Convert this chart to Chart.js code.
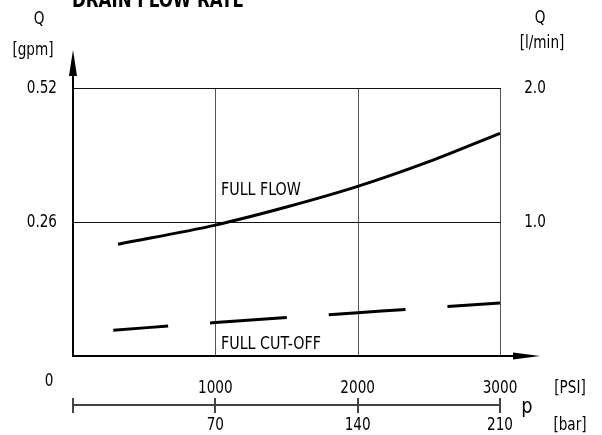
<!DOCTYPE html>
<html>
<head>
<meta charset="utf-8">
<script src="https://cdn.jsdelivr.net/npm/chart.js@4"></script>
<style>
  html, body { margin: 0; padding: 0; background: #fff; }
  #wrap { width: 602px; height: 435px; position: relative; }
</style>
</head>
<body>
<div id="wrap"><canvas id="grafico"></canvas></div>
<script>
// datos
const psiTicks = [1000, 2000, 3000];
const barTicks = ['70', '140', '210'];
const gpmTicks = [0.26, 0.52];
const lminTicks = ['1.0', '2.0'];

const fullFlowPsi = [316, 1000, 1500, 2000, 2500, 3000];
const fullFlowGpm = [0.217, 0.254, 0.289, 0.329, 0.377, 0.432];

const cutOffPsi = [283, 1000, 2000, 3000];
const cutOffGpm = [0.050, 0.065, 0.084, 0.103];

const fuente = '"DejaVu Sans Condensed", "DejaVu Sans", sans-serif';

// texto estrechado en horizontal (la fuente del plano es muy estrecha)
function texto(ctx, str, x, y, align, size, k) {
    ctx.save();
    ctx.translate(x, y);
    ctx.scale(k || 0.84, 1);
    ctx.font = (size || 18) + 'px ' + fuente;
    ctx.textAlign = align || 'center';
    ctx.textBaseline = 'middle';
    ctx.fillText(str, 0, 0);
    ctx.restore();
}

// plugin que dibuja ejes, flechas y textos tipo plano tecnico
const ejesPlugin = {
    id: 'ejes',
    beforeDatasetsDraw(chart) {
        const ctx = chart.ctx;
        const x = chart.scales.x;
        const y = chart.scales.y;
        const x0 = Math.round(x.getPixelForValue(0));
        const xEnd = Math.round(x.getPixelForValue(3000));
        const y0 = Math.round(y.getPixelForValue(0));
        const yTop = Math.round(y.getPixelForValue(0.52));
        ctx.save();
        // rejilla
        ctx.fillStyle = '#555';
        psiTicks.forEach(v => {
            const px = Math.round(x.getPixelForValue(v));
            ctx.fillRect(px, yTop, 1, y0 - yTop);
        });
        ctx.fillStyle = '#111';
        gpmTicks.forEach(v => {
            const py = Math.round(y.getPixelForValue(v));
            ctx.fillRect(x0, py, xEnd - x0 + 1, 1);
        });
        ctx.restore();
    },
    afterDraw(chart) {
        const ctx = chart.ctx;
        const x = chart.scales.x;
        const y = chart.scales.y;
        const x0 = Math.round(x.getPixelForValue(0));
        const xEnd = Math.round(x.getPixelForValue(3000));
        const y0 = Math.round(y.getPixelForValue(0));
        ctx.save();
        ctx.fillStyle = '#000';
        // eje Y con flecha
        ctx.fillRect(x0 - 1, 70, 2, y0 - 69);
        ctx.beginPath();
        ctx.moveTo(x0, 50);
        ctx.lineTo(x0 - 4, 76);
        ctx.lineTo(x0 + 4, 76);
        ctx.closePath();
        ctx.fill();
        // eje X con flecha
        ctx.fillRect(x0 - 1, y0 - 1, 520 - x0, 2);
        ctx.beginPath();
        ctx.moveTo(540, y0);
        ctx.lineTo(513, y0 - 3.5);
        ctx.lineTo(513, y0 + 3.5);
        ctx.closePath();
        ctx.fill();
        // escala en bar (linea de 2px para que no se pierda)
        ctx.fillStyle = '#444';
        ctx.fillRect(x0, 404, xEnd - x0 + 1, 2);
        [0].concat(psiTicks).forEach(v => {
            const px = Math.round(x.getPixelForValue(v));
            ctx.fillRect(px - 1, 398, 2, 15);
        });
        // textos
        ctx.fillStyle = '#000';
        gpmTicks.forEach(v => {
            texto(ctx, v.toFixed(2), 57, y.getPixelForValue(v), 'right');
        });
        lminTicks.forEach((t, i) => {
            texto(ctx, t, 535, y.getPixelForValue(gpmTicks[i]));
        });
        psiTicks.forEach(v => {
            texto(ctx, String(v), x.getPixelForValue(v), 388);
        });
        barTicks.forEach((t, i) => {
            texto(ctx, t, x.getPixelForValue(psiTicks[i]), 425);
        });
        texto(ctx, '0', 49, 381);
        texto(ctx, 'Q', 39, 19);
        texto(ctx, '[gpm]', 33, 50);
        texto(ctx, 'Q', 540, 18);
        texto(ctx, '[l/min]', 542, 43);
        texto(ctx, '[PSI]', 570, 388);
        texto(ctx, '[bar]', 570, 425);
        texto(ctx, 'p', 527, 407, 'center', 22, 0.9);
        texto(ctx, 'FULL FLOW', 221, 190, 'left', 18, 0.88);
        texto(ctx, 'FULL CUT-OFF', 221, 344, 'left', 18, 0.88);
        // titulo recortado arriba
        ctx.save();
        ctx.translate(72, 7);
        ctx.scale(0.84, 1);
        ctx.font = 'bold 22px ' + fuente;
        ctx.textAlign = 'left';
        ctx.textBaseline = 'alphabetic';
        ctx.fillText('DRAIN FLOW RATE', 0, 0);
        ctx.restore();
        ctx.restore();
    }
};

const migrafico = document.getElementById('grafico');

const datos1 = {
    label: 'FULL FLOW',
    data: fullFlowPsi.map((p, i) => ({ x: p, y: fullFlowGpm[i] })),
    borderColor: '#000',
    borderWidth: 3,
    pointRadius: 0,
    cubicInterpolationMode: 'monotone',
    fill: false
};
const datos2 = {
    label: 'FULL CUT-OFF',
    data: cutOffPsi.map((p, i) => ({ x: p, y: cutOffGpm[i] })),
    borderColor: '#000',
    borderWidth: 3,
    borderDash: [77, 42],
    borderDashOffset: 22,
    pointRadius: 0,
    cubicInterpolationMode: 'monotone',
    fill: false
};

const config = {
    type: 'line',
    data: { datasets: [datos1, datos2] },
    options: {
        responsive: true,
        maintainAspectRatio: false,
        animation: false,
        layout: {
            padding: { left: 73, right: 102, top: 88, bottom: 79 }
        },
        plugins: {
            legend: { display: false },
            tooltip: { enabled: false }
        },
        scales: {
            x: { type: 'linear', min: 0, max: 3000, display: false },
            y: { min: 0, max: 0.52, display: false }
        }
    },
    plugins: [ejesPlugin]
};
new Chart(migrafico, config);
</script>
</body>
</html>
